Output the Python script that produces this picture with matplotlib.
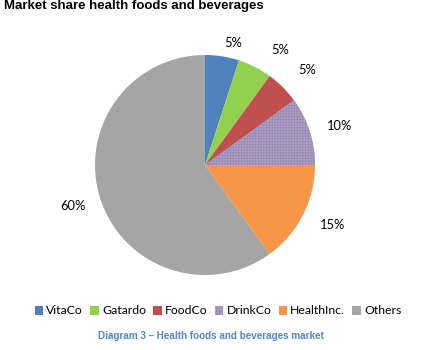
import numpy as np
import matplotlib
matplotlib.use("Agg")
import matplotlib.pyplot as plt

# data
companies = ["VitaCo", "Gatardo", "FoodCo", "DrinkCo", "HealthInc.", "Others"]
shares = [5, 5, 5, 10, 15, 60]
colors = ["#4F81BD", "#92D050", "#C0504D", "#8C7BAA", "#F79646", "#A5A5A5"]

# label placement tweaks (radius, angle shift in degrees)
lab_r = [1.14, 1.25, 1.27, 1.27, 1.28, 1.26]
lab_dt = [-4, -6, -2, -2, 2, -1]

W, H = 423, 350
fig = plt.figure(figsize=(W / 100, H / 100), dpi=100)

cx, cy, r = 205, 165, 110
ax = fig.add_axes([(cx - r) / W, (H - cy - r) / H, 2 * r / W, 2 * r / H])

wedges, _ = ax.pie(shares, colors=colors, startangle=90, counterclock=False,
                   wedgeprops=dict(linewidth=0))
ax.set_aspect("equal")
ax.set_xlim(-1, 1)
ax.set_ylim(-1, 1)

# fine grid texture on DrinkCo
wedges[3].set_hatch("++++++")
wedges[3].set_edgecolor("#A99BC0")
wedges[3].set_linewidth(0)

for w, s, rr, dt in zip(wedges, shares, lab_r, lab_dt):
    th = np.deg2rad((w.theta1 + w.theta2) / 2 + dt)
    ax.text(rr * np.cos(th), rr * np.sin(th), f"{s}%", ha="center", va="center",
            fontsize=9.3, family="Lato", clip_on=False)

fig.text(4 / W, 1 - 6 / H, "Market share health foods and beverages", ha="left", va="center",
         fontsize=9.5, fontweight="bold", family="Liberation Sans")

leg = fig.legend(wedges, companies, loc="center", bbox_to_anchor=(218 / W, 1 - 311 / H),
                 ncol=6, frameon=False, handlelength=0.7, handleheight=0.7,
                 handletextpad=0.25, columnspacing=0.6, prop={"family": "Lato", "size": 8.8})

fig.text(211 / W, 1 - 336 / H, "Diagram 3 \u2013 Health foods and beverages market", ha="center",
         va="center", fontsize=7.1, fontweight="bold", color="#5287C8", family="Liberation Sans")

fig.savefig("out.png", dpi=100)
